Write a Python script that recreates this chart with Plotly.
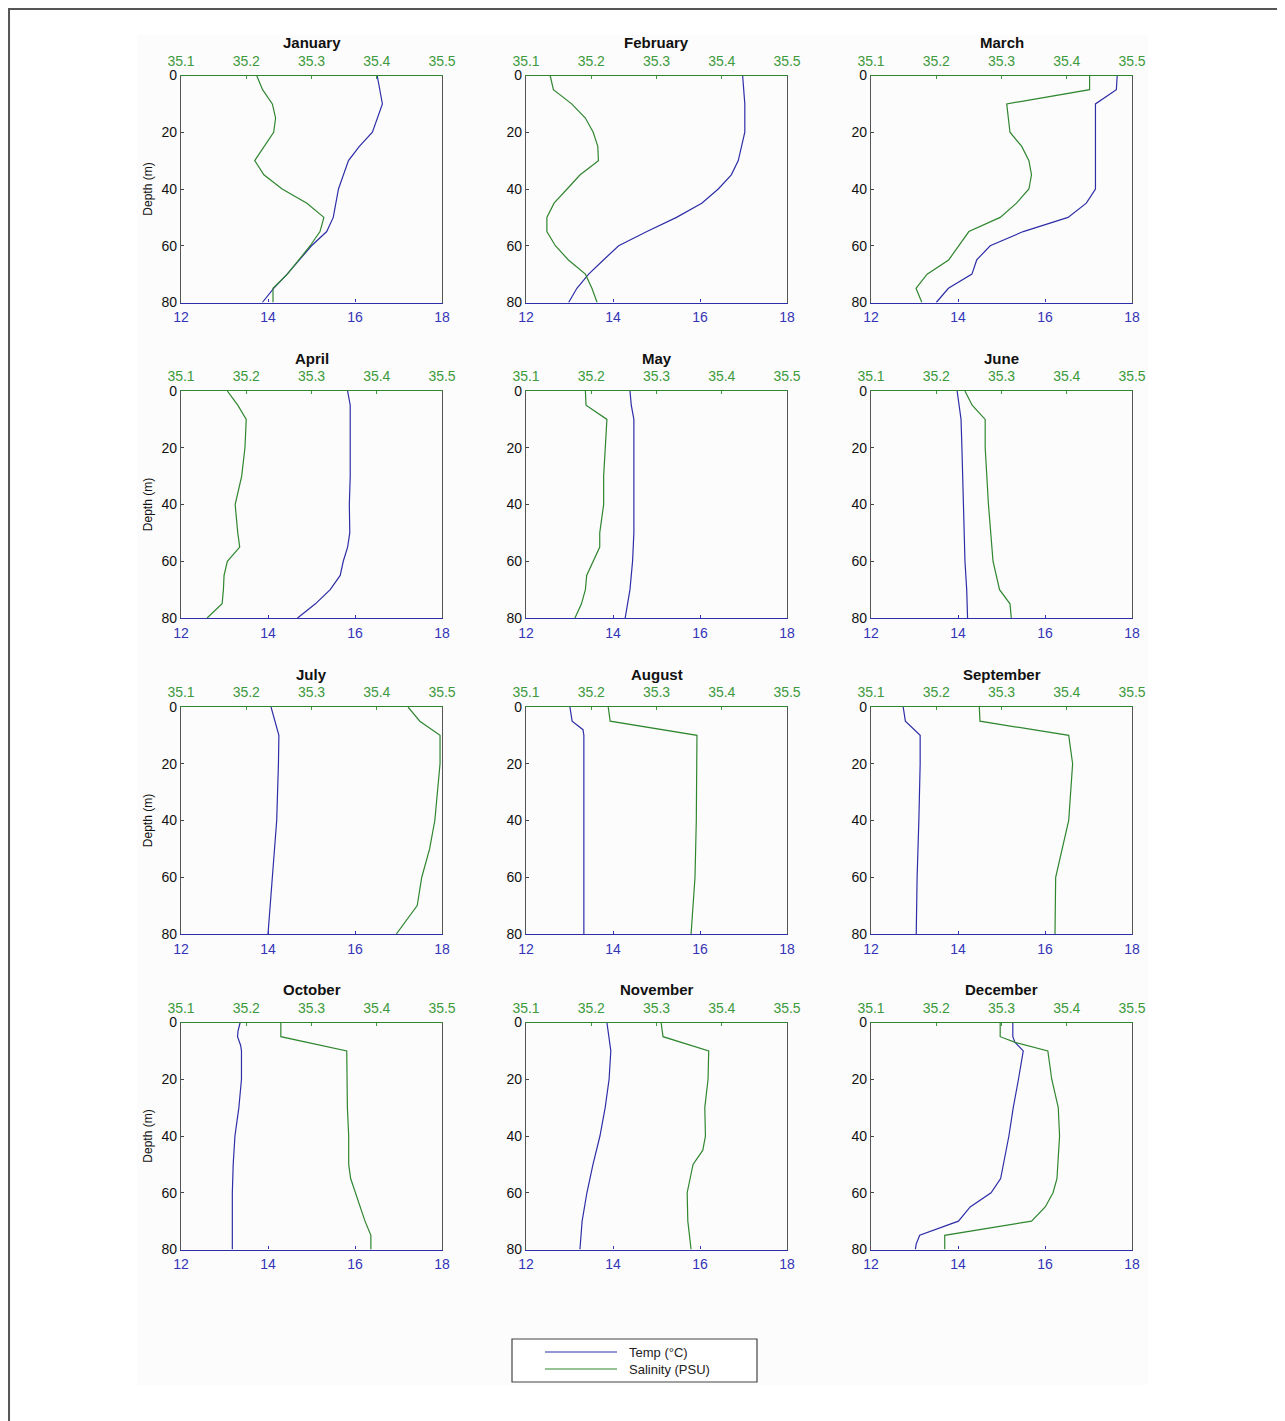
import plotly.graph_objects as go

OFF = 8  # page body margin
W, H = 1285 - OFF, 1421 - OFF

months = ["January", "February", "March", "April", "May", "June",
          "July", "August", "September", "October", "November", "December"]

# ---- Temperature profiles (depth m, temp °C) ----
jan_t_depth = [0, 10, 20, 25, 30, 40, 50, 55, 60, 70, 75, 80]
jan_temp = [16.51, 16.63, 16.40, 16.10, 15.85, 15.62, 15.50, 15.35, 15.00, 14.44, 14.13, 13.87]
feb_t_depth = [0, 10, 20, 30, 35, 40, 45, 50, 55, 60, 65, 70, 75, 80]
feb_temp = [16.98, 17.03, 17.03, 16.88, 16.72, 16.42, 16.04, 15.46, 14.78, 14.13, 13.78, 13.44, 13.17, 12.98]
mar_t_depth = [0, 5, 10, 20, 30, 40, 45, 50, 55, 60, 65, 70, 75, 80]
mar_temp = [17.66, 17.64, 17.16, 17.16, 17.16, 17.16, 16.95, 16.53, 15.50, 14.74, 14.43, 14.32, 13.78, 13.50]
apr_t_depth = [0, 5, 10, 20, 30, 40, 50, 55, 60, 65, 70, 75, 80]
apr_temp = [15.83, 15.89, 15.89, 15.89, 15.89, 15.87, 15.88, 15.83, 15.73, 15.66, 15.43, 15.09, 14.68]
may_t_depth = [0, 5, 10, 20, 30, 40, 50, 60, 70, 80]
may_temp = [14.39, 14.42, 14.48, 14.48, 14.48, 14.48, 14.48, 14.45, 14.39, 14.28]
jun_t_depth = [0, 10, 20, 40, 60, 70, 80]
jun_temp = [13.98, 14.07, 14.09, 14.13, 14.16, 14.20, 14.22]
jul_t_depth = [0, 10, 20, 40, 60, 80]
jul_temp = [14.07, 14.25, 14.24, 14.20, 14.10, 14.00]
aug_t_depth = [0, 5, 8, 10, 20, 40, 60, 80]
aug_temp = [13.01, 13.06, 13.31, 13.33, 13.33, 13.33, 13.33, 13.33]
sep_t_depth = [0, 5, 10, 20, 40, 60, 80]
sep_temp = [12.74, 12.79, 13.13, 13.13, 13.10, 13.06, 13.04]
oct_t_depth = [0, 3, 5, 8, 10, 20, 30, 40, 50, 60, 70, 80]
oct_temp = [13.36, 13.31, 13.30, 13.37, 13.39, 13.39, 13.33, 13.24, 13.20, 13.18, 13.18, 13.18]
nov_t_depth = [0, 5, 10, 20, 30, 40, 50, 60, 70, 80]
nov_temp = [13.86, 13.91, 13.95, 13.91, 13.82, 13.70, 13.54, 13.40, 13.29, 13.24]
dec_t_depth = [0, 5, 7, 10, 20, 30, 40, 50, 55, 60, 65, 70, 75, 78, 80]
dec_temp = [15.26, 15.26, 15.31, 15.50, 15.39, 15.27, 15.17, 15.04, 14.98, 14.76, 14.28, 14.01, 13.12, 13.04, 13.02]

# ---- Salinity profiles (depth m, salinity PSU) ----
jan_s_depth = [0, 5, 10, 15, 20, 25, 30, 35, 40, 45, 50, 55, 60, 70, 75, 80]
jan_sal = [35.216, 35.225, 35.240, 35.245, 35.242, 35.227, 35.213, 35.227, 35.255, 35.293, 35.319, 35.313, 35.298, 35.263, 35.241, 35.241]
feb_s_depth = [0, 5, 10, 15, 20, 25, 30, 35, 40, 45, 50, 55, 60, 65, 70, 75, 80]
feb_sal = [35.137, 35.142, 35.170, 35.191, 35.203, 35.210, 35.211, 35.183, 35.163, 35.143, 35.132, 35.132, 35.145, 35.165, 35.191, 35.201, 35.209]
mar_s_depth = [0, 5, 10, 20, 25, 30, 35, 40, 45, 50, 55, 60, 65, 70, 75, 80]
mar_sal = [35.435, 35.435, 35.308, 35.313, 35.331, 35.342, 35.346, 35.342, 35.323, 35.298, 35.250, 35.234, 35.219, 35.186, 35.169, 35.178]
apr_s_depth = [0, 5, 10, 20, 30, 40, 50, 55, 60, 65, 70, 75, 80]
apr_sal = [35.171, 35.187, 35.200, 35.198, 35.193, 35.183, 35.187, 35.190, 35.171, 35.166, 35.165, 35.163, 35.140]
may_s_depth = [0, 5, 10, 20, 30, 40, 50, 55, 60, 65, 70, 75, 80]
may_sal = [35.191, 35.192, 35.224, 35.221, 35.219, 35.219, 35.213, 35.213, 35.203, 35.193, 35.191, 35.185, 35.175]
jun_s_depth = [0, 5, 10, 20, 40, 60, 70, 75, 80]
jun_sal = [35.244, 35.255, 35.275, 35.275, 35.280, 35.287, 35.297, 35.313, 35.315]
jul_s_depth = [0, 5, 10, 20, 40, 50, 60, 70, 80]
jul_sal = [35.448, 35.466, 35.497, 35.497, 35.489, 35.481, 35.469, 35.462, 35.430]
aug_s_depth = [0, 5, 10, 20, 40, 60, 80]
aug_sal = [35.226, 35.229, 35.362, 35.362, 35.361, 35.359, 35.353]
sep_s_depth = [0, 5, 10, 20, 40, 60, 80]
sep_sal = [35.266, 35.267, 35.403, 35.409, 35.403, 35.383, 35.382]
oct_s_depth = [0, 5, 10, 20, 30, 40, 50, 55, 60, 70, 75, 80]
oct_sal = [35.253, 35.253, 35.354, 35.354, 35.355, 35.357, 35.357, 35.360, 35.367, 35.382, 35.391, 35.391]
nov_s_depth = [0, 5, 10, 20, 30, 40, 45, 50, 60, 70, 80]
nov_sal = [35.307, 35.310, 35.380, 35.379, 35.374, 35.375, 35.371, 35.356, 35.347, 35.348, 35.353]
dec_s_depth = [0, 5, 7, 10, 20, 30, 40, 50, 55, 60, 65, 70, 75, 80]
dec_sal = [35.298, 35.298, 35.321, 35.371, 35.377, 35.387, 35.389, 35.387, 35.385, 35.379, 35.367, 35.346, 35.213, 35.213]

temp_profiles = [(jan_t_depth, jan_temp), (feb_t_depth, feb_temp), (mar_t_depth, mar_temp),
                 (apr_t_depth, apr_temp), (may_t_depth, may_temp), (jun_t_depth, jun_temp),
                 (jul_t_depth, jul_temp), (aug_t_depth, aug_temp), (sep_t_depth, sep_temp),
                 (oct_t_depth, oct_temp), (nov_t_depth, nov_temp), (dec_t_depth, dec_temp)]
sal_profiles = [(jan_s_depth, jan_sal), (feb_s_depth, feb_sal), (mar_s_depth, mar_sal),
                (apr_s_depth, apr_sal), (may_s_depth, may_sal), (jun_s_depth, jun_sal),
                (jul_s_depth, jul_sal), (aug_s_depth, aug_sal), (sep_s_depth, sep_sal),
                (oct_s_depth, oct_sal), (nov_s_depth, nov_sal), (dec_s_depth, dec_sal)]

temp_ticks = [12, 14, 16, 18]
sal_ticks = [35.1, 35.2, 35.3, 35.4, 35.5]
sal_tick_labels = ["35.1", "35.2", "35.3", "35.4", "35.5"]
depth_ticks = [0, 20, 40, 60, 80]

TEMP_C = "#2e2ea8"
SAL_C = "#2f862f"
TEMP_TXT = "#3434b8"
SAL_TXT = "#3d9a3d"
FONT = "Liberation Sans, Arial, sans-serif"


def px(x):
    return (x - OFF) / W


def py(y):
    return 1 - (y - OFF) / H


col_left = [181, 526, 871]
row_top = [75.5, 391, 707, 1022.5]
PW, PH = 261, 227

fig = go.Figure()
layout = {}
annotations = []

for i, m in enumerate(months):
    r, c = divmod(i, 3)
    L = col_left[c]
    T = row_top[r]
    xd = [px(L), px(L + PW)]
    yd = [py(T + PH), py(T)]
    xt = 2 * i + 1
    xs = 2 * i + 2
    yi = i + 1
    xt_name = "xaxis" if xt == 1 else f"xaxis{xt}"
    xs_name = f"xaxis{xs}"
    y_name = "yaxis" if yi == 1 else f"yaxis{yi}"
    xt_ref = "x" if xt == 1 else f"x{xt}"
    xs_ref = f"x{xs}"
    y_ref = "y" if yi == 1 else f"y{yi}"

    layout[xt_name] = dict(
        domain=xd, anchor=y_ref, side="bottom", range=[12, 18],
        tickvals=temp_ticks, ticks="inside", ticklen=3, tickcolor=TEMP_TXT,
        tickfont=dict(family=FONT, size=14, color=TEMP_TXT), ticklabelstandoff=2,
        showline=True, linecolor=TEMP_C, linewidth=1.2,
        showgrid=False, zeroline=False, automargin=False, fixedrange=True,
    )
    layout[xs_name] = dict(
        overlaying=xt_ref, anchor=y_ref, side="top", range=[35.1, 35.5],
        tickvals=sal_ticks, ticktext=sal_tick_labels, ticks="inside", ticklen=3,
        tickcolor=SAL_TXT, ticklabelstandoff=3,
        tickfont=dict(family=FONT, size=14, color=SAL_TXT),
        showline=True, linecolor=SAL_C, linewidth=1.2,
        showgrid=False, zeroline=False, automargin=False, fixedrange=True,
    )
    ydict = dict(
        domain=yd, anchor=xt_ref, range=[80, 0], tickvals=depth_ticks,
        ticks="inside", ticklen=3, tickcolor="#444",
        tickfont=dict(family=FONT, size=14, color="#111"),
        showline=True, linecolor="#555", linewidth=1.2, mirror=True,
        showgrid=False, zeroline=False, automargin=False, fixedrange=True,
    )
    if c == 0:
        ydict["title"] = dict(text="Depth (m)", font=dict(family=FONT, size=12, color="#111"),
                              standoff=6)
    layout[y_name] = ydict

    td, tv = temp_profiles[i]
    sd, sv = sal_profiles[i]
    fig.add_trace(go.Scatter(x=tv, y=td, xaxis=xt_ref, yaxis=y_ref, mode="lines",
                             line=dict(color=TEMP_C, width=1.2), name="Temp (°C)",
                             showlegend=False))
    fig.add_trace(go.Scatter(x=sv, y=sd, xaxis=xs_ref, yaxis=y_ref, mode="lines",
                             line=dict(color=SAL_C, width=1.2), name="Salinity (PSU)",
                             showlegend=False))

    annotations.append(dict(
        text=f"<b>{m}</b>", xref="paper", yref="paper",
        x=px(L + PW / 2), y=py(T - 33), xanchor="center", yanchor="middle",
        showarrow=False, font=dict(family=FONT, size=15, color="#111"),
    ))

# legend (drawn box)
leg_x0, leg_x1, leg_y0, leg_y1 = 512, 757, 1339, 1382
legend_items = [("Temp (°C)", TEMP_C, 1352), ("Salinity (PSU)", SAL_C, 1369)]
shapes = [
    # faint figure background region
    dict(type="rect", xref="paper", yref="paper", x0=px(137), x1=px(1148),
         y0=py(1385), y1=py(35), fillcolor="#fcfcfc", line=dict(width=0),
         layer="below"),
    # outer frame (left and top)
    dict(type="line", xref="paper", yref="paper", x0=0.0008, x1=0.0008, y0=0, y1=1,
         line=dict(color="#555", width=2)),
    dict(type="line", xref="paper", yref="paper", x0=0, x1=1, y0=0.9993, y1=0.9993,
         line=dict(color="#555", width=2)),
    dict(type="rect", xref="paper", yref="paper", x0=px(leg_x0), x1=px(leg_x1),
         y0=py(leg_y1), y1=py(leg_y0), fillcolor="white",
         line=dict(color="#444", width=1.2)),
]
for label, col, yy in legend_items:
    shapes.append(dict(type="line", xref="paper", yref="paper", x0=px(545), x1=px(617),
                       y0=py(yy), y1=py(yy), line=dict(color=col, width=1.2)))
    annotations.append(dict(text=label, xref="paper", yref="paper", x=px(627), y=py(yy),
                            xanchor="left", yanchor="middle", showarrow=False,
                            font=dict(family=FONT, size=13, color="#222")))

fig.update_layout(
    width=W, height=H, margin=dict(l=0, r=0, t=0, b=0),
    paper_bgcolor="white", plot_bgcolor="white", showlegend=False,
    annotations=annotations, shapes=shapes, **layout,
)

fig.write_html("out.html")
